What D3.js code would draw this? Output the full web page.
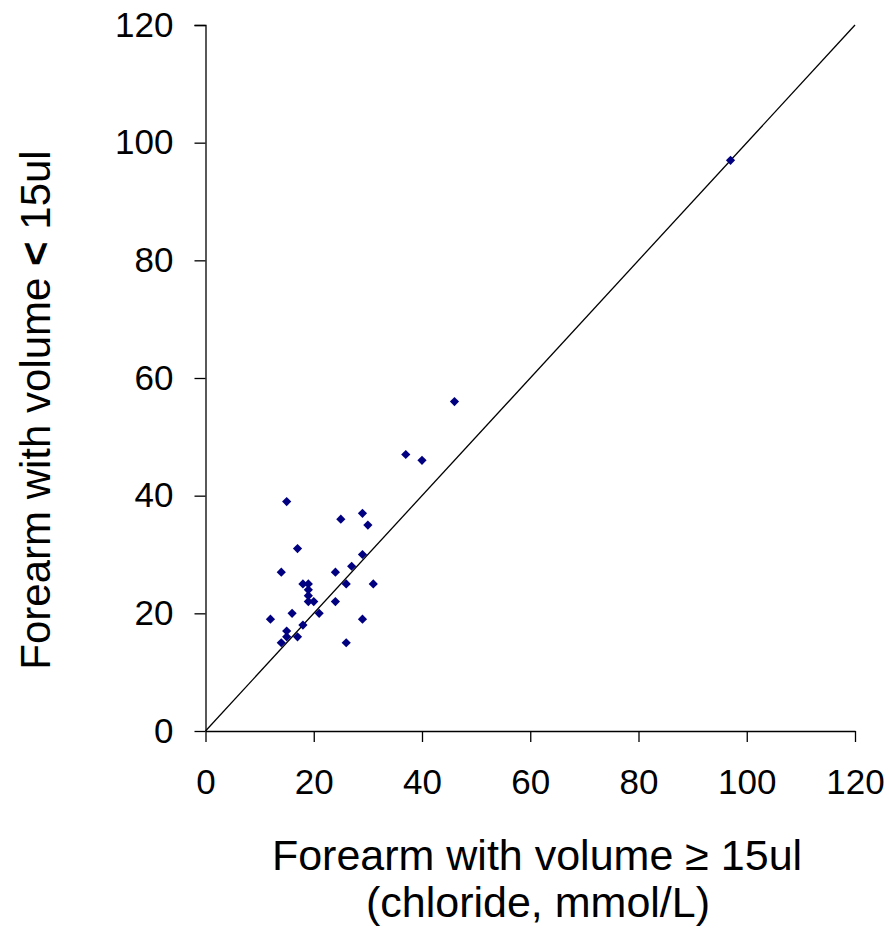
<!DOCTYPE html>
<html>
<head>
<meta charset="utf-8">
<script src="https://cdn.jsdelivr.net/npm/d3@7"></script>
<style>
  body { margin: 0; background: #fff; }
  text { font-family: Arial, "Liberation Sans", sans-serif; fill: #000; }
</style>
</head>
<body>
<div id="chart"></div>
<script>
// forearm >= 15ul (x) vs forearm < 15ul (y), chloride mmol/L
const xValues = [46, 37, 40, 15, 25, 29, 30, 17, 29, 27, 14, 24, 18, 19, 26, 31,
  19, 19, 19, 20, 24, 16, 21, 12, 29, 18, 15, 15, 17, 14, 26, 97];
const yValues = [56, 47, 46, 39, 36, 37, 35, 31, 30, 28, 27, 27, 25, 25, 25, 25,
  24, 23, 22, 22, 22, 20, 20, 19, 19, 18, 17, 16, 16, 15, 15, 97];
const tickValues = [0, 20, 40, 60, 80, 100, 120];

const points = xValues.map((x, i) => ({ x: x, y: yValues[i] }));

const width = 889, height = 929;
const margin = { top: 25, right: 34, bottom: 198, left: 205.5 };
const w = width - margin.left - margin.right;
const h = height - margin.top - margin.bottom;

const svg = d3.select("#chart").append("svg")
  .attr("width", width)
  .attr("height", height);

const g = svg.append("g")
  .attr("transform", `translate(${margin.left}, ${margin.top})`);

const xScale = d3.scaleLinear().domain([0, 120]).range([0, w]);
const yScale = d3.scaleLinear().domain([0, 120]).range([h, 0]);

const xAxis = d3.axisBottom(xScale).tickValues(tickValues).tickSize(11).tickPadding(27);
const yAxis = d3.axisLeft(yScale).tickValues(tickValues).tickSize(11).tickPadding(21);

const gx = g.append("g")
  .attr("transform", `translate(0, ${h})`)
  .call(xAxis);
const gy = g.append("g").call(yAxis);

[gx, gy].forEach(a => {
  a.select(".domain").attr("stroke", "#000").attr("stroke-width", 1.3);
  a.selectAll(".tick line").attr("stroke", "#000").attr("stroke-width", 1.3);
  a.selectAll(".tick text")
    .style("font-size", "35px")
    .attr("fill", "#000");
});
gy.select(".domain").attr("d", `M-11,0.5H0.5V${h}`);
gx.select(".domain").attr("d", `M0.5,0.5H${w + 0.5}`);

// identity line
g.append("line")
  .attr("x1", xScale(0)).attr("y1", yScale(0))
  .attr("x2", xScale(120)).attr("y2", yScale(120))
  .attr("stroke", "#000")
  .attr("stroke-width", 1.3);

const diamond = d3.symbol().type(d3.symbolDiamond2).size(54);

g.selectAll("path.pt")
  .data(points)
  .enter().append("path")
  .attr("class", "pt")
  .attr("d", diamond)
  .attr("transform", d => `translate(${xScale(d.x)}, ${yScale(d.y)})`)
  .attr("fill", "#000080");

// axis titles
svg.append("text")
  .attr("x", 537).attr("y", 870)
  .attr("text-anchor", "middle")
  .style("font-size", "43px")
  .text("Forearm with volume \u2265 15ul");

svg.append("text")
  .attr("x", 538).attr("y", 917)
  .attr("text-anchor", "middle")
  .style("font-size", "43px")
  .text("(chloride, mmol/L)");

const yt = svg.append("text")
  .attr("transform", "translate(50, 410) rotate(-90)")
  .attr("text-anchor", "middle")
  .style("font-size", "42px");
yt.append("tspan").text("Forearm with volume ");
yt.append("tspan").style("font-weight", "bold").text("<");
yt.append("tspan").text(" 15ul");
</script>
</body>
</html>
